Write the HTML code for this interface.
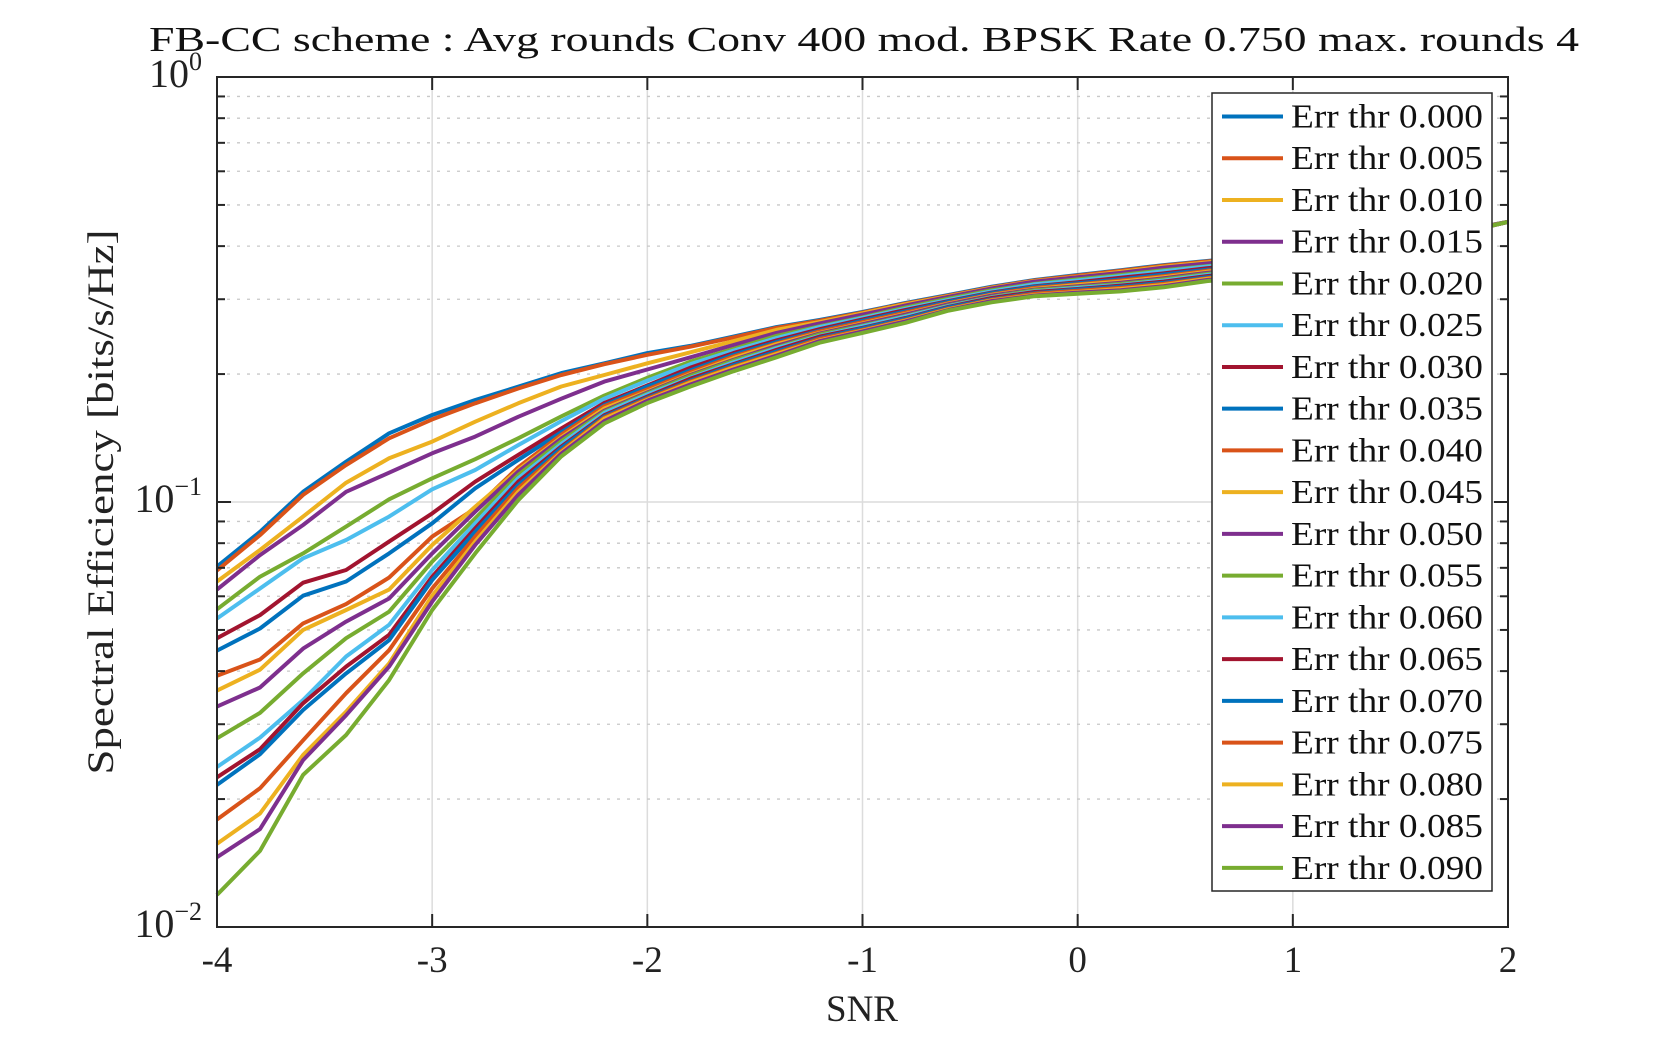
<!DOCTYPE html>
<html><head><meta charset="utf-8"><style>
html,body{margin:0;padding:0;background:#fff;}
svg{display:block;font-family:"Liberation Serif",serif;}
</style></head><body>
<svg id="chart" width="1667" height="1042" viewBox="0 0 1667 1042" xmlns="http://www.w3.org/2000/svg">
<rect width="1667" height="1042" fill="#fff"/>
<text x="864" y="51" font-size="35" text-anchor="middle" textLength="1430" lengthAdjust="spacingAndGlyphs" fill="#111">FB-CC scheme : Avg rounds Conv 400 mod. BPSK Rate 0.750 max. rounds 4</text>
<g id="grid"></g>
<g id="series"></g>
<g id="axes"></g>
<text x="862" y="1021" font-size="37" text-anchor="middle" fill="#222">SNR</text>
<text transform="translate(113,502) rotate(-90)" font-size="37" text-anchor="middle" textLength="545" lengthAdjust="spacingAndGlyphs" fill="#222">Spectral Efficiency [bits/s/Hz]</text>
<g id="legend"></g>
</svg>
<script>
const xValues = [-4,-3.8,-3.6,-3.4,-3.2,-3,-2.8,-2.6,-2.4,-2.2,-2,-1.8,-1.6,-1.4,-1.2,-1,-0.8,-0.6,-0.4,-0.2,0,0.2,0.4,0.6,0.8,1,1.2,1.4,1.6,1.8,2];
const seriesNames = ["Err thr 0.000","Err thr 0.005","Err thr 0.010","Err thr 0.015","Err thr 0.020","Err thr 0.025","Err thr 0.030","Err thr 0.035","Err thr 0.040","Err thr 0.045","Err thr 0.050","Err thr 0.055","Err thr 0.060","Err thr 0.065","Err thr 0.070","Err thr 0.075","Err thr 0.080","Err thr 0.085","Err thr 0.090"];
const s0 = [.0705,.0851,.1057,.1244,.1451,.1602,.1738,.1868,.201,.212,.224,.233,.245,.258,.268,.280,.294,.307,.321,.333,.342,.351,.361,.369,.377,.385,.396,.407,.420,.437,.456];
const s1 = [.069,.0836,.1039,.1222,.1412,.1564,.1707,.185,.199,.211,.222,.232,.244,.257,.267,.279,.293,.306,.320,.332,.341,.350,.360,.368,.376,.384,.395,.406,.420,.437,.456];
const s2 = [.065,.0771,.0924,.111,.1267,.1387,.1545,.1707,.187,.199,.212,.225,.239,.254,.265,.278,.292,.305,.319,.331,.339,.348,.358,.366,.374,.382,.393,.405,.419,.437,.456];
const s3 = [.0622,.075,.0883,.1057,.1172,.1302,.1425,.1587,.175,.192,.205,.219,.234,.250,.263,.276,.290,.304,.318,.330,.338,.346,.356,.364,.372,.381,.392,.404,.419,.436,.456];
const s4 = [.0559,.0667,.0757,.0875,.1015,.1137,.1261,.1412,.159,.178,.196,.214,.229,.246,.259,.272,.287,.301,.315,.326,.334,.342,.351,.359,.367,.376,.388,.402,.417,.436,.456];
const s5 = [.0532,.0626,.0737,.0814,.0924,.1071,.1189,.1361,.155,.175,.193,.211,.227,.243,.258,.271,.285,.299,.313,.325,.332,.340,.349,.358,.365,.374,.386,.401,.417,.436,.456];
const s6 = [.0478,.0542,.0646,.0692,.0807,.094,.1116,.1291,.149,.171,.188,.207,.224,.240,.255,.269,.283,.297,.311,.322,.329,.337,.345,.355,.362,.371,.384,.399,.416,.435,.456];
const s7 = [.0447,.0504,.0602,.065,.0757,.0891,.1077,.1256,.146,.169,.187,.204,.222,.238,.253,.267,.281,.296,.310,.321,.327,.334,.343,.352,.360,.369,.382,.398,.415,.435,.456];
const s8 = [.039,.0426,.0518,.0575,.0664,.0829,.0966,.1207,.144,.168,.184,.202,.220,.236,.252,.265,.279,.294,.308,.319,.325,.332,.340,.350,.357,.366,.380,.396,.414,.435,.456];
const s9 = [.036,.0403,.050,.0557,.0622,.0792,.0975,.1189,.142,.166,.182,.200,.218,.235,.250,.263,.277,.293,.307,.317,.324,.330,.338,.348,.356,.365,.378,.395,.414,.434,.456];
const s10 = [.033,.0366,.0452,.0523,.0593,.0757,.0949,.1179,.141,.164,.181,.199,.216,.233,.249,.262,.276,.292,.306,.316,.322,.328,.336,.346,.354,.363,.376,.394,.413,.434,.456];
const s11 = [.0278,.0319,.0395,.0478,.0552,.0724,.0915,.1157,.139,.163,.180,.198,.215,.231,.248,.260,.274,.290,.304,.315,.320,.326,.334,.344,.352,.361,.375,.393,.413,.434,.456];
const s12 = [.0238,.0279,.0342,.0433,.0514,.0692,.0891,.1137,.137,.162,.179,.196,.213,.230,.246,.259,.273,.289,.303,.313,.319,.324,.332,.342,.350,.359,.373,.392,.412,.434,.456];
const s13 = [.0225,.0262,.0336,.041,.0487,.0667,.0867,.1116,.135,.160,.177,.195,.211,.228,.245,.257,.271,.288,.302,.312,.317,.323,.330,.340,.348,.357,.371,.391,.411,.433,.456];
const s14 = [.0216,.0255,.0324,.0395,.0473,.0655,.0851,.1096,.134,.159,.176,.193,.210,.226,.243,.256,.270,.287,.300,.310,.316,.321,.328,.338,.346,.355,.370,.390,.411,.433,.456];
const s15 = [.0179,.0212,.0275,.0355,.0448,.0626,.0829,.1077,.132,.158,.175,.192,.208,.224,.242,.254,.268,.285,.299,.309,.314,.319,.326,.336,.344,.353,.368,.389,.410,.433,.456];
const s16 = [.0157,.0185,.0254,.0321,.0417,.0602,.0807,.1057,.131,.157,.174,.191,.207,.223,.240,.253,.267,.284,.298,.307,.312,.317,.324,.335,.342,.352,.367,.388,.410,.433,.456];
const s17 = [.0146,.017,.0247,.0315,.041,.0583,.0792,.1039,.130,.155,.173,.189,.205,.221,.239,.252,.266,.283,.297,.306,.311,.315,.322,.333,.340,.350,.365,.387,.409,.432,.456];
const s18 = [.0119,.0151,.0228,.0283,.0381,.0557,.0757,.101,.128,.153,.171,.187,.203,.219,.237,.250,.264,.282,.295,.305,.309,.313,.320,.331,.338,.348,.363,.385,.408,.432,.456];
const xTicks = [-4,-3,-2,-1,0,1,2];
const xTickLabels = ["-4","-3","-2","-1","0","1","2"];
const yDecades = [-2,-1,0];
const yTickExp = ["\u22122","\u22121","0"];

const allSeries = [s0,s1,s2,s3,s4,s5,s6,s7,s8,s9,s10,s11,s12,s13,s14,s15,s16,s17,s18];
const colors = ["#0072BD","#D95319","#EDB120","#7E2F8E","#77AC30","#4DBEEE","#A2142F"];
const L=217,R=1508,T=77,B=927;
const NS="http://www.w3.org/2000/svg";
function xs(v){return L+(v-(-4))/(2-(-4))*(R-L);}
function ys(v){return B-(Math.log10(v)-(-2))/2*(B-T);}
function mk(tag,attrs,parent){const e=document.createElementNS(NS,tag);for(const k in attrs)e.setAttribute(k,attrs[k]);parent.appendChild(e);return e;}

const grid=document.getElementById('grid');
xTicks.forEach(function(t,i){
  if(i===0||i===xTicks.length-1)return;
  const g=mk('line',{x1:xs(t),x2:xs(t),y1:T,y2:B,stroke:'#dcdcdc','stroke-width':1.5},grid);
  
  
});
yDecades.forEach(function(d){
  for(let m=1;m<10;m++){
    const v=m*Math.pow(10,d);
    if(d===0&&m>1)break;
    const y=ys(v);
    if(y<=T+0.5||y>=B-0.5)continue;
    const g=mk('line',{x1:L,x2:R,y1:y,y2:y,stroke:m===1?'#dcdcdc':'#c8c8c8','stroke-width':m===1?1.5:1.3,'stroke-dasharray':m===1?'none':'3,7'},grid);
    
    
  }
});

const sg=document.getElementById('series');
allSeries.forEach(function(arr,i){
  const pts=arr.map(function(v,j){return xs(xValues[j]).toFixed(1)+','+ys(v).toFixed(1);}).join(' ');
  const p=mk('polyline',{points:pts,fill:'none',stroke:colors[i%7],'stroke-width':4,'stroke-linejoin':'round'},sg);
  
  
});

const ax=document.getElementById('axes');
const box=mk('rect',{x:L,y:T,width:R-L,height:B-T,fill:'none',stroke:'#262626','stroke-width':2},ax);


xTicks.forEach(function(t,i){
  const x=xs(t);
  mk('line',{x1:x,x2:x,y1:B,y2:B-13,stroke:'#262626','stroke-width':2},ax);
  mk('line',{x1:x,x2:x,y1:T,y2:T+13,stroke:'#262626','stroke-width':2},ax);
  const tx=mk('text',{x:x,y:972,'font-size':37,'text-anchor':'middle',fill:'#222'},ax);
  tx.textContent=xTickLabels[i];
  
  
});
yDecades.forEach(function(d,i){
  for(let m=1;m<10;m++){
    if(d===0&&m>1)break;
    const y=ys(m*Math.pow(10,d));
    const len=m===1?14:8;
    mk('line',{x1:L,x2:L+len,y1:y,y2:y,stroke:'#262626','stroke-width':2},ax);
    mk('line',{x1:R,x2:R-len,y1:y,y2:y,stroke:'#262626','stroke-width':2},ax);
  }
  const y=ys(Math.pow(10,d));
  const tx=mk('text',{x:202,y:y+10,'font-size':40,'text-anchor':'end',fill:'#222'},ax);
  
  
  const base=document.createElementNS(NS,'tspan');base.textContent='10';tx.appendChild(base);
  const sup=document.createElementNS(NS,'tspan');sup.setAttribute('dy','-17');sup.setAttribute('font-size','26');sup.textContent=yTickExp[i];tx.appendChild(sup);
});

const lg=document.getElementById('legend');
const lb=mk('rect',{x:1212,y:93,width:280,height:798,fill:'#fff',stroke:'#262626','stroke-width':1.5},lg);


seriesNames.forEach(function(n,i){
  const cy=116.5+i*41.74;
  const g=mk('g',{},lg);
  
  
  mk('line',{x1:1222,x2:1283,y1:cy,y2:cy,stroke:colors[i%7],'stroke-width':4},g);
  const t=mk('text',{x:1291,y:cy+11,'font-size':34,fill:'#111',textLength:192,lengthAdjust:'spacingAndGlyphs'},g);
  t.textContent=n;
});
</script>
</body></html>
